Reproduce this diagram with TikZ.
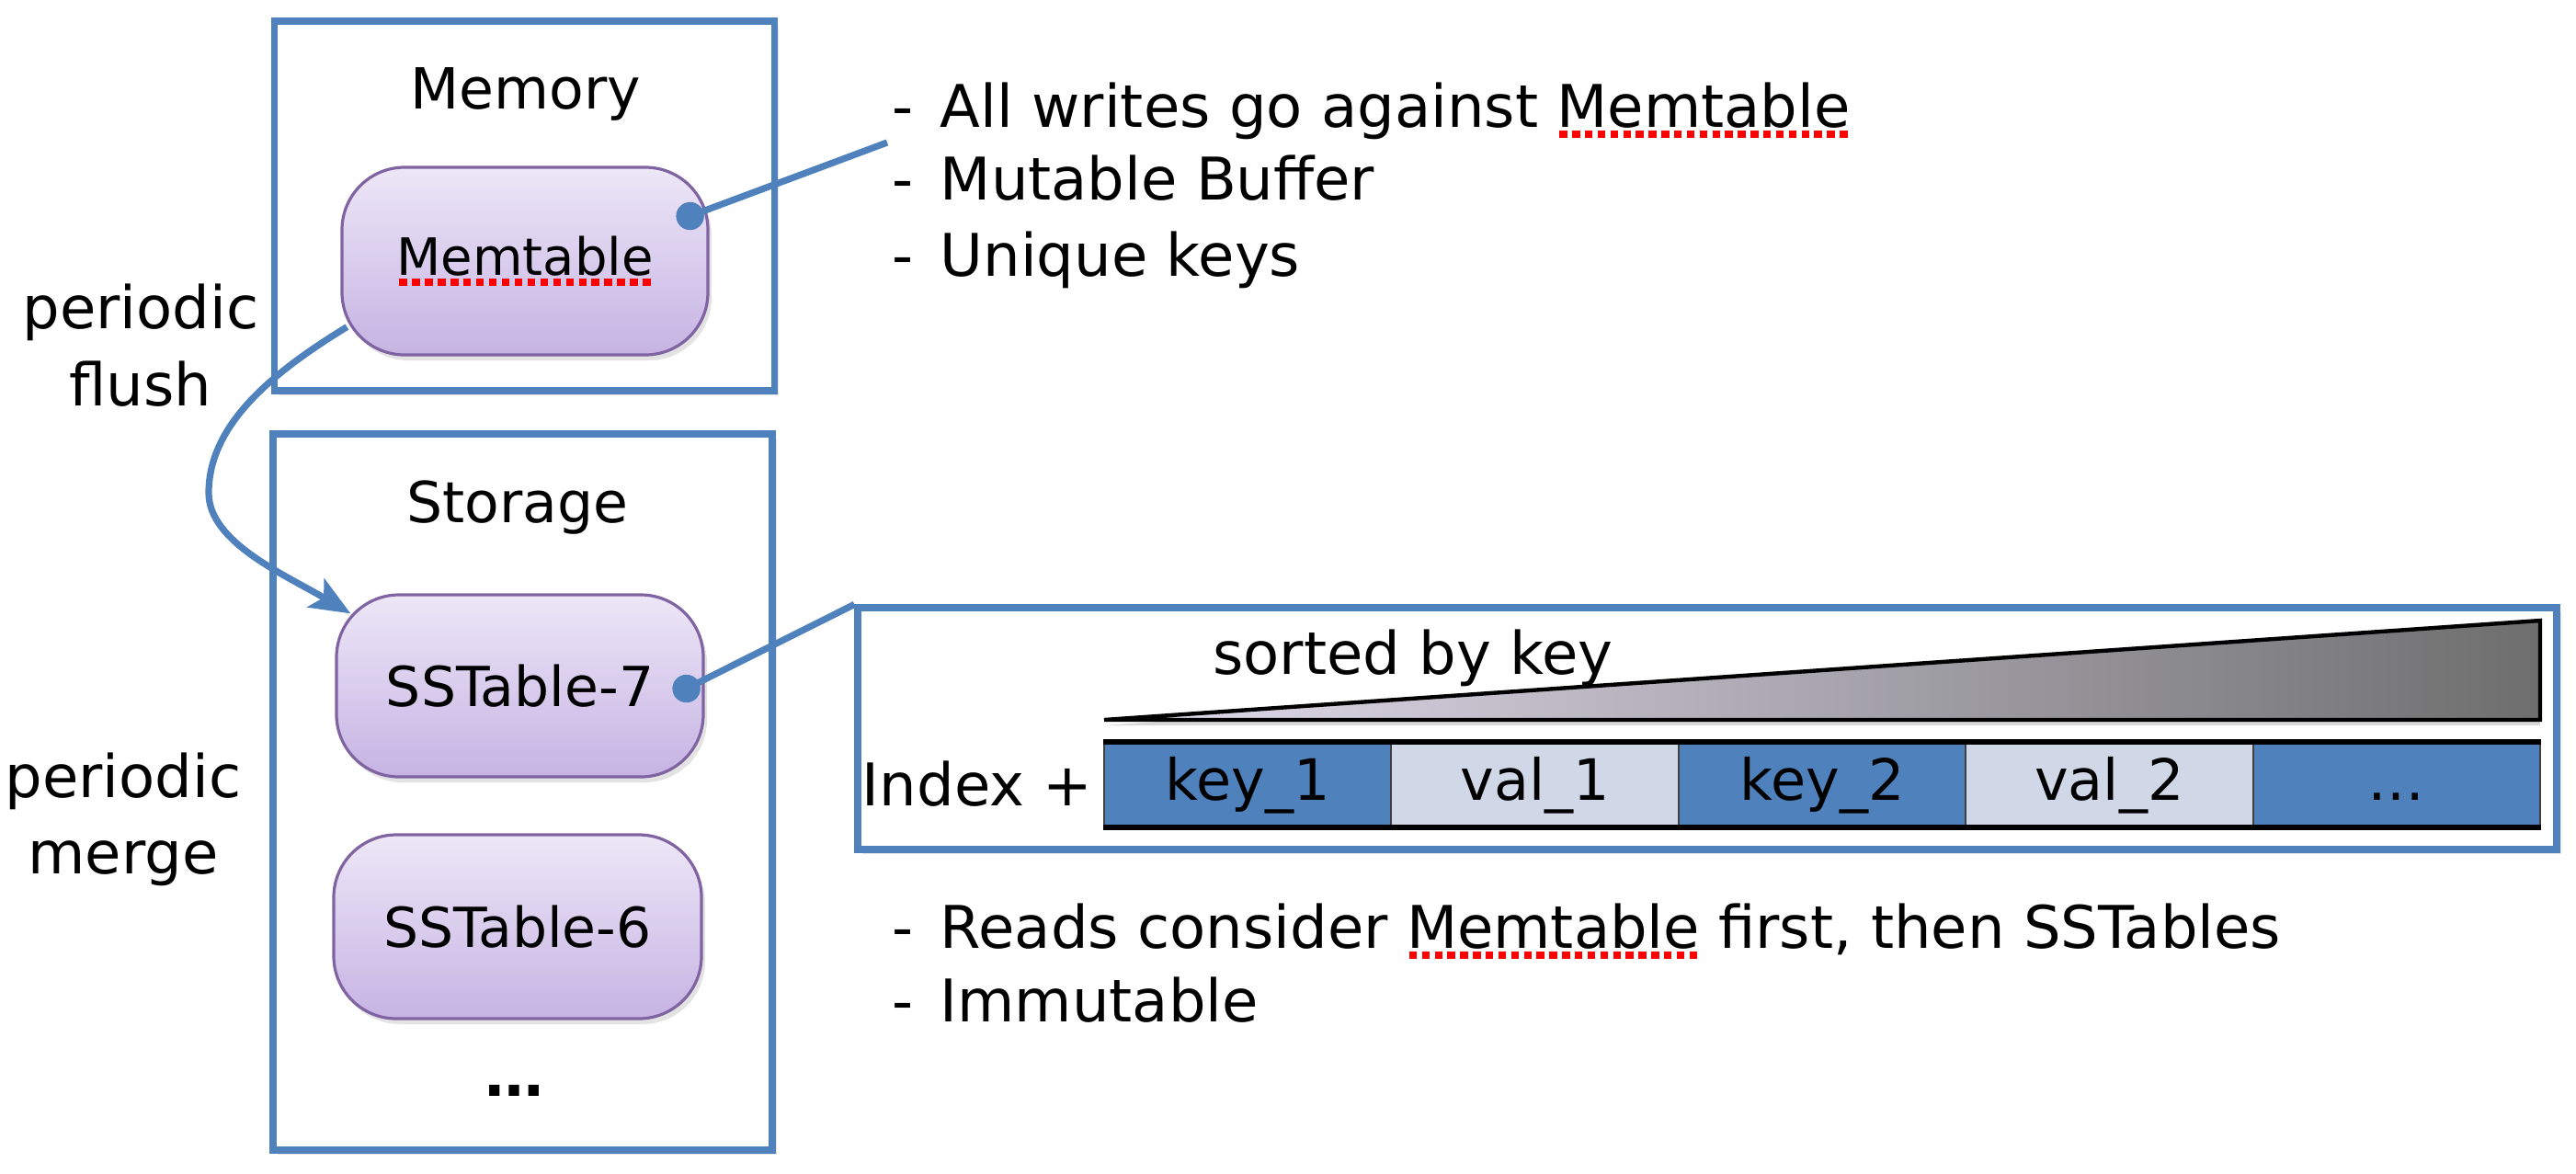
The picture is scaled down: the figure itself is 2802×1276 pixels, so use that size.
\documentclass[tikz,border=0pt]{standalone}
\usepackage{fontspec}
\setmainfont{DejaVu Sans}
\usetikzlibrary{arrows.meta,shadows,calc}

\definecolor{ofblue}{HTML}{4F81BD}
\definecolor{ofpurple}{HTML}{8064A2}
\definecolor{lavtop}{HTML}{EDE7F7}
\definecolor{lavbot}{HTML}{C6B3E3}
\definecolor{valfill}{HTML}{D0D8E8}
\definecolor{trilight}{HTML}{E2DDEE}
\definecolor{tridark}{HTML}{6E6E6E}

\newcommand\spellmark[1]{\setbox0\hbox{#1}\leavevmode\rlap{\raisebox{-2.9pt}{\color{red}\hbox to \wd0{\xleaders\hbox to 3.4pt{\hss\rule{2.1pt}{1.9pt}\hss}\hfill}}}\box0\relax}

\tikzset{
  framebox/.style={draw=ofblue, line width=1.8pt, fill=white,
    drop shadow={opacity=0.2, shadow xshift=1.2pt, shadow yshift=-1.2pt}},
  tablenode/.style={draw=ofpurple, line width=0.8pt, rounded corners=17pt,
    top color=lavtop, bottom color=lavbot,
    drop shadow={opacity=0.22, shadow xshift=1pt, shadow yshift=-1.5pt}},
  cellkey/.style={fill=ofblue, draw=black!75, line width=0.5pt,
    minimum width=78.1pt, minimum height=22.75pt, inner sep=0pt,
    text height=11.5pt, text depth=3pt, font=\fontsize{15.5}{19}\selectfont},
  cellval/.style={cellkey, fill=valfill},
  conn/.style={ofblue, line width=1.8pt},
  lbl/.style={inner sep=0pt, font=\fontsize{16}{20}\selectfont},
}

\begin{document}
\begin{tikzpicture}[x=0.25pt, y=-0.25pt]
\path[use as bounding box, fill=white] (0,0) rectangle (2802,1276);

% frames
\node[framebox, minimum width=136pt, minimum height=100.5pt] (mem) at (570.5,224) {};
\node[framebox, minimum width=135.75pt, minimum height=194.75pt] (st) at (568.5,861.5) {};
\node[lbl, font=\fontsize{15.4}{18}\selectfont, anchor=base] (memlbl) at (572,118) {Memory};
\node[lbl, font=\fontsize{15.4}{18}\selectfont, anchor=base] (stlbl) at (563,568) {Storage};

% tables
\node[tablenode, minimum width=99.5pt, minimum height=51pt, font=\fontsize{14}{17}\selectfont] (mt) at (571,284) {\spellmark{Memtable}};
\node[tablenode, minimum width=99.75pt, minimum height=49.5pt, font=\fontsize{15}{18}\selectfont] (sst7) at (565.5,746) {SSTable-7};
\node[tablenode, minimum width=100pt, minimum height=50pt, font=\fontsize{15}{18}\selectfont] (sst6) at (563,1008) {SSTable-6};
\node[lbl, font=\bfseries\fontsize{16}{20}\selectfont] (more) at (559,1186) {…};

% side labels
\node[lbl, anchor=base] (flusha) at (153,357) {periodic};
\node[lbl, anchor=base] (flushb) at (153,441) {flush};
\node[lbl, anchor=base] (mergea) at (134,867) {periodic};
\node[lbl, anchor=base] (mergeb) at (134,950) {merge};

% notes
\node[lbl, anchor=base west] (w1) at (970,138) {\makebox[13pt][l]{-}All writes go against \spellmark{Memtable}};
\node[lbl, anchor=base west] (w2) at (970,217) {\makebox[13pt][l]{-}Mutable Buffer};
\node[lbl, anchor=base west] (w3) at (970,300) {\makebox[13pt][l]{-}Unique keys};
\node[lbl, anchor=base west] (r1) at (970,1031) {\makebox[13pt][l]{-}Reads consider \spellmark{Memtable} first, then SSTables};
\node[lbl, anchor=base west] (r2) at (970,1111) {\makebox[13pt][l]{-}Immutable};

% panel
\node[framebox, minimum width=462pt, minimum height=65.75pt] (panel) at (1857,792.5) {};
\path[shading=axis, left color=trilight, right color=tridark, draw=black, line width=1.1pt, line join=miter,
  drop shadow={opacity=0.3, shadow xshift=0pt, shadow yshift=-1.5pt}]
  (1201,783) -- (2763,783) -- (2763,675) -- cycle;
\node[lbl, anchor=base] (sorted) at (1537,733) {sorted by key};
\node[lbl, anchor=base] (idx) at (1063,876) {Index +};
\node[cellkey] (c1) at (1357.2,853.5) {key\_1};
\node[cellval] (c2) at (1669.6,853.5) {val\_1};
\node[cellkey] (c3) at (1982.0,853.5) {key\_2};
\node[cellval] (c4) at (2294.4,853.5) {val\_2};
\node[cellkey] (c5) at (2606.8,853.5) {…};
\draw[line width=1.3pt] (c1.north west) -- (c5.north east);
\draw[line width=1.3pt] (c1.south west) -- (c5.south east);

% connectors
\coordinate (mtdot) at ($(mt.east)+(-21,-49)$);
\coordinate (wref) at (965,155);
\draw[conn] (mtdot) -- (wref);
\fill[ofblue] (mtdot) circle (3.8pt);

\coordinate (sstdot) at ($(sst7.east)+(-20,3)$);
\draw[conn] (sstdot) -- (panel.north west);
\fill[ofblue] (sstdot) circle (3.8pt);

\coordinate (fstart) at ($(mt.south west)+(7,-32)$);
\coordinate (fend) at ($(sst7.north west)+(17,22)$);
\draw[conn, -{Stealth[length=11pt,width=9pt,inset=2.5pt]}] (fstart) .. controls (300,403) and (227,460) .. (227,536)
  .. controls (227,590) and (310,625) .. (fend);
\end{tikzpicture}
\end{document}
